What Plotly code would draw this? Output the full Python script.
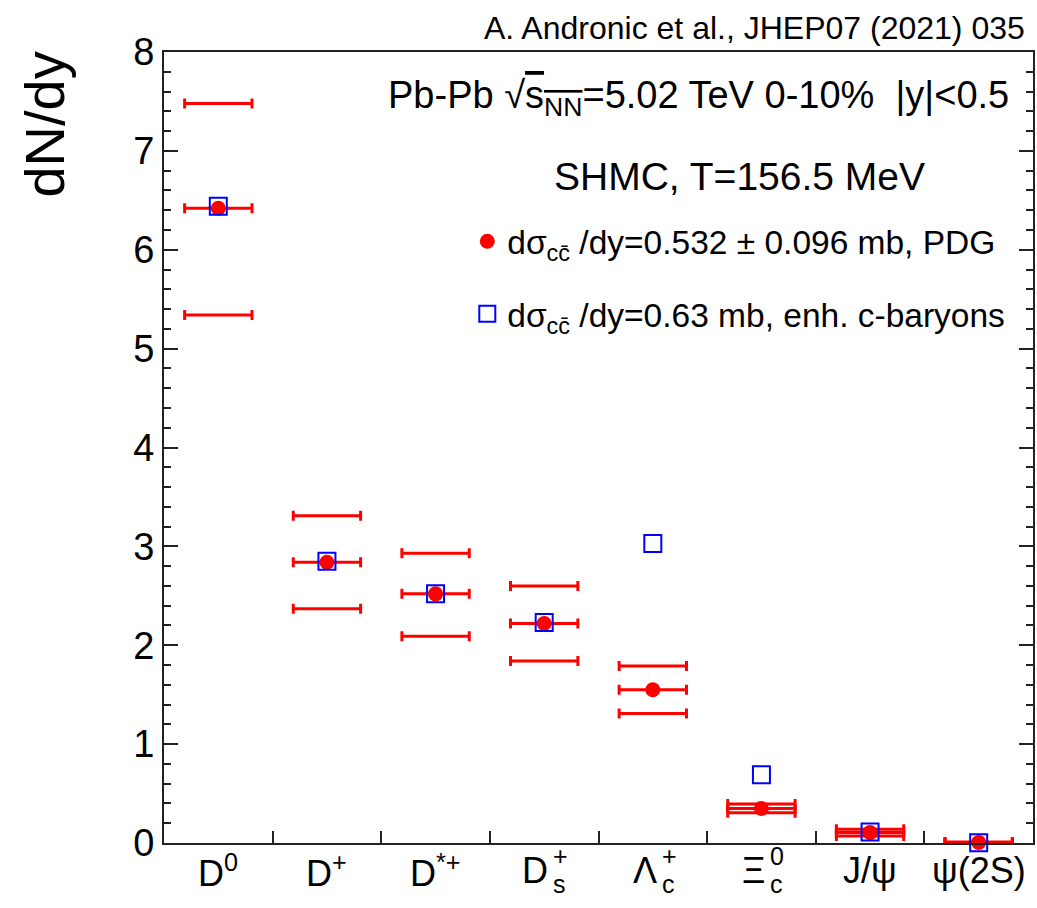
import plotly.graph_objects as go

# ---- data ----
particles = ["D0", "D+", "D*+", "Ds+", "Lc+", "Xic0", "J/psi", "psi(2S)"]
label_base = ["D", "D", "D", "D", "Λ", "Ξ", "J/ψ", "ψ(2S)"]
label_sup = ["0", "+", "*+", "+", "+", "0", "", ""]
label_sub = ["", "", "", "s", "c", "c", "", ""]

pdg_central = [6.42, 2.84, 2.52, 2.22, 1.55, 0.35, 0.105, 0.006]
pdg_upper = [7.48, 3.31, 2.93, 2.60, 1.79, 0.395, 0.14, 0.010]
pdg_lower = [5.34, 2.37, 2.09, 1.84, 1.31, 0.305, 0.072, 0.003]
enh_values = [6.44, 2.85, 2.52, 2.23, 3.03, 0.69, 0.11, 0.002]

half_width = 0.31  # horizontal extent of the bars, in bin units

RED = "#ff0000"
BLUE = "#0000ff"
FONT = "Liberation Sans, Arial, Helvetica, sans-serif"

xpos = list(range(len(particles)))
xerr = [half_width] * len(particles)

fig = go.Figure()

for vals in (pdg_upper, pdg_lower):
    fig.add_trace(go.Scatter(
        x=xpos, y=vals, mode="markers",
        marker=dict(size=1, color=RED),
        error_x=dict(type="data", array=xerr, color=RED, thickness=3, width=5),
        showlegend=False, hoverinfo="skip", cliponaxis=False,
    ))

fig.add_trace(go.Scatter(
    x=xpos, y=pdg_central, mode="markers",
    marker=dict(symbol="circle", size=15, color=RED, line=dict(width=0)),
    error_x=dict(type="data", array=xerr, color=RED, thickness=3, width=5),
    name="dσ<sub>cc̄</sub> /dy=0.532 ± 0.096 mb, PDG",
    legendgroup="a", cliponaxis=False,
))

fig.add_trace(go.Scatter(
    x=xpos, y=enh_values, mode="markers",
    marker=dict(symbol="square-open", size=17, color=BLUE, line=dict(width=2, color=BLUE)),
    name="dσ<sub>cc̄</sub> /dy=0.63 mb, enh. c-baryons",
    legendgroup="b", cliponaxis=False,
))

annotations = []
# category labels
LBL = 36
for i, (b, sp, sb) in enumerate(zip(label_base, label_sup, label_sub)):
    if sb == "":
        txt = b + (f"<sup>{sp}</sup>" if sp else "")
        annotations.append(dict(x=i, y=-0.035, xref="x", yref="paper", text=txt,
                                showarrow=False, xanchor="center", yanchor="middle",
                                font=dict(size=LBL, family=FONT, color="black")))
    else:
        annotations.append(dict(x=i, y=-0.035, xref="x", yref="paper", text=b,
                                showarrow=False, xanchor="right", yanchor="middle", xshift=6,
                                font=dict(size=LBL, family=FONT, color="black")))
        annotations.append(dict(x=i, y=-0.035, xref="x", yref="paper", text=sp,
                                showarrow=False, xanchor="left", yanchor="middle", xshift=7, yshift=15,
                                font=dict(size=int(LBL * 0.7), family=FONT, color="black")))
        annotations.append(dict(x=i, y=-0.035, xref="x", yref="paper", text=sb,
                                showarrow=False, xanchor="left", yanchor="middle", xshift=7, yshift=-13,
                                font=dict(size=int(LBL * 0.7), family=FONT, color="black")))

# y axis title
annotations.append(dict(x=-0.137, y=1.003, xref="paper", yref="paper", text="dN/dy",
                        textangle=-90, showarrow=False, xanchor="center", yanchor="top",
                        font=dict(size=56, family=FONT, color="black")))
# header texts
annotations.append(dict(x=(1029 - 164) / 871, y=(843 - 28) / 791, xref="paper", yref="paper",
                        text="A. Andronic et al., JHEP07 (2021) 035", showarrow=False,
                        xanchor="right", yanchor="middle",
                        font=dict(size=32, family=FONT, color="black")))
annotations.append(dict(x=(1013 - 164) / 871, y=(843 - 98) / 791, xref="paper", yref="paper",
                        text="Pb-Pb √<span style='text-decoration:overline'>s<sub>NN</sub></span>=5.02 TeV 0-10%  |y|<0.5",
                        showarrow=False, xanchor="right", yanchor="middle",
                        font=dict(size=38, family=FONT, color="black")))
annotations.append(dict(x=(741 - 164) / 871, y=(843 - 176) / 791, xref="paper", yref="paper",
                        text="SHMC, T=156.5 MeV", showarrow=False,
                        xanchor="center", yanchor="middle",
                        font=dict(size=39, family=FONT, color="black")))

fig.update_layout(
    width=1037, height=908,
    margin=dict(l=164, r=2, t=52, b=65),
    paper_bgcolor="white", plot_bgcolor="white",
    font=dict(family=FONT, color="black"),
    annotations=annotations,
    legend=dict(x=(468 - 164) / 871, y=(843 - 213) / 791, xanchor="left", yanchor="top",
                bgcolor="rgba(0,0,0,0)", font=dict(size=33.5, family=FONT, color="black"),
                tracegroupgap=26, traceorder="grouped"),
    xaxis=dict(range=[-0.5, 7.5], tickvals=[i + 0.5 for i in xpos[:-1]],
               ticks="inside", ticklen=12, tickwidth=2, tickcolor="#222",
               showticklabels=False, showgrid=False, zeroline=False,
               showline=True, linecolor="#222", linewidth=2, mirror=True),
    yaxis=dict(range=[0, 8], dtick=1, ticks="inside", ticklen=14, tickwidth=2, tickcolor="#222",
               minor=dict(dtick=0.2, ticks="inside", ticklen=7, tickwidth=2, tickcolor="#222"),
               tickfont=dict(size=38, family=FONT, color="black"),
               showgrid=False, zeroline=False,
               showline=True, linecolor="#222", linewidth=2, mirror="ticks"),
)

fig.write_html("out.html")
